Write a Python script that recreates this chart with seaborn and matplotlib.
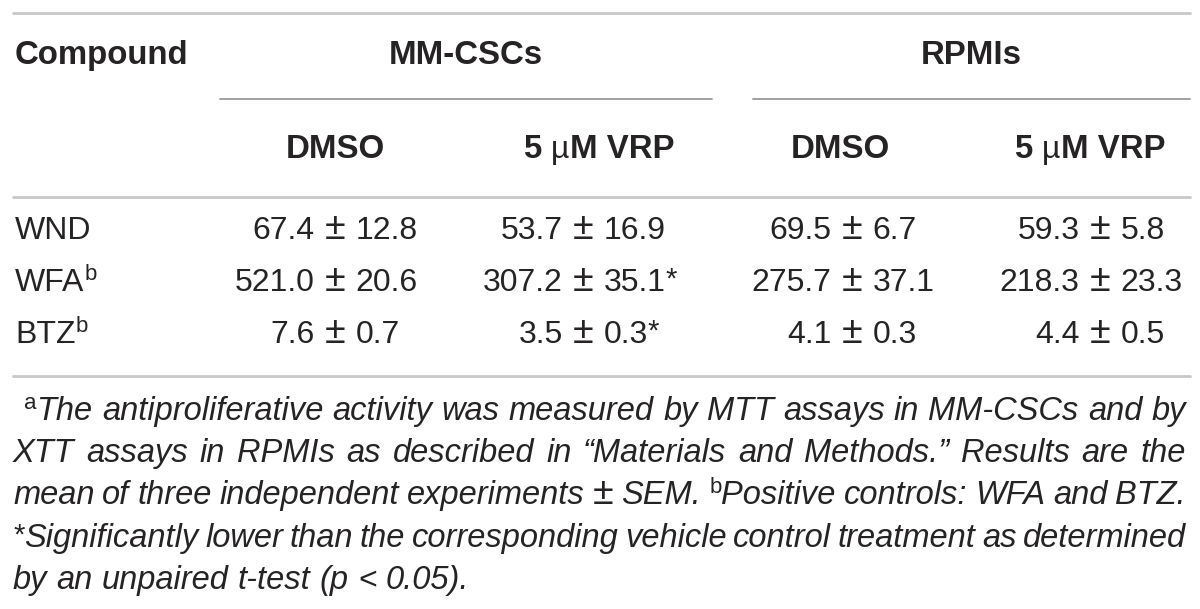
import matplotlib
matplotlib.use("Agg")
import matplotlib.pyplot as plt
import seaborn as sns

# Table contents
compounds = ["WND", "WFA", "BTZ"]
compound_marks = ["", "b", "b"]
groups = ["MM-CSCs", "RPMIs"]
treatments = ["DMSO", "5 µM VRP", "DMSO", "5 µM VRP"]

mm_dmso_mean = [67.4, 521.0, 7.6]
mm_dmso_sem = [12.8, 20.6, 0.7]
mm_vrp_mean = [53.7, 307.2, 3.5]
mm_vrp_sem = [16.9, 35.1, 0.3]
mm_vrp_sig = [False, True, True]
rp_dmso_mean = [69.5, 275.7, 4.1]
rp_dmso_sem = [6.7, 37.1, 0.3]
rp_vrp_mean = [59.3, 218.3, 4.4]
rp_vrp_sem = [5.8, 23.3, 0.5]

columns = [
    (mm_dmso_mean, mm_dmso_sem, [False] * 3),
    (mm_vrp_mean, mm_vrp_sem, mm_vrp_sig),
    (rp_dmso_mean, rp_dmso_sem, [False] * 3),
    (rp_vrp_mean, rp_vrp_sem, [False] * 3),
]

foot_lines = [
    [[("a", "sup"), ("The", "it")]] + "antiproliferative activity was measured by MTT assays in MM-CSCs and by".split(),
    "XTT assays in RPMIs as described in “Materials and Methods.” Results are the".split(),
    "mean of three independent experiments".split() + [[("±", "pm")], "SEM.", [("b", "sup"), ("Positive", "it")]] + "controls: WFA and BTZ.".split(),
    [[("*", "star"), ("Significantly", "it")]] + "lower than the corresponding vehicle control treatment as determined".split(),
    "by an unpaired t-test".split() + [[("(p", "it")], [("<", "up")], [("0.05).", "it")]],
]

sns.set_theme(style="white")
plt.rcParams["font.family"] = ["Liberation Sans", "DejaVu Sans"]

INK = "#262324"
FS = 23
STYLES = {
    "it": dict(fontsize=FS + 0.5, fontstyle="italic"),
    "up": dict(fontsize=FS),
    "pm": dict(fontsize=FS + 4),
    "bold": dict(fontsize=FS + 0.8, fontweight="bold"),
    "sup": dict(fontsize=16),
    "star": dict(fontsize=21),
}
RAISE = {"sup": -11, "star": -3}

fig = plt.figure(figsize=(12, 6.09), dpi=100)
ax = fig.add_axes([0, 0, 1, 1])
ax.set_xlim(0, 1200)
ax.set_ylim(609, 0)
ax.axis("off")
renderer = fig.canvas.get_renderer()


def width(txt, kind):
    t = ax.text(0, 0, txt, **STYLES[kind])
    w = t.get_window_extent(renderer).width
    t.remove()
    return w


def as_pieces(word):
    return [(word, "it")] if isinstance(word, str) else word


def draw_pieces(pieces, x, y, ha="left"):
    ws = [width(p, k) for p, k in pieces]
    total = sum(ws)
    if ha == "center":
        x -= total / 2
    elif ha == "right":
        x -= total
    for (p, k), w in zip(pieces, ws):
        ax.text(x, y + RAISE.get(k, 0), p, color=INK, va="baseline", **STYLES[k])
        x += w
    return total


# rules
ax.plot([13, 1190], [13, 13], color="#c8c8c8", lw=2)
ax.plot([13, 1190], [197, 197], color="#c8c8c8", lw=2)
ax.plot([13, 1190], [376, 376], color="#c8c8c8", lw=2)
ax.plot([220, 712], [99, 99], color="#9a9a9a", lw=1.3)
ax.plot([753, 1190], [99, 99], color="#9a9a9a", lw=1.3)

# header
draw_pieces([("Compound", "bold")], 15, 64)
draw_pieces([(groups[0], "bold")], 466, 64, ha="center")
draw_pieces([(groups[1], "bold")], 971, 64, ha="center")
head_x = [335, 599, 840, 1090]
for name, hx in zip(treatments, head_x):
    if "µ" in name:
        draw_pieces([("5 ", "bold"), ("µ", "up"), ("M VRP", "bold")], hx, 158, ha="center")
    else:
        draw_pieces([(name, "bold")], hx, 158, ha="center")

# body
row_y = [239, 291, 343]
pm_x = [335, 583, 852, 1100]
gap = 10
for i, (comp, mark) in enumerate(zip(compounds, compound_marks)):
    pieces = [(comp, "up")]
    if mark:
        pieces.append((mark, "sup"))
    draw_pieces(pieces, 15, row_y[i])
    for (means, sems, sig), px in zip(columns, pm_x):
        pw = width("±", "pm")
        draw_pieces([(f"{means[i]:.1f}", "up")], px - pw / 2 - gap, row_y[i], ha="right")
        draw_pieces([("±", "pm")], px, row_y[i], ha="center")
        right = [(f"{sems[i]:.1f}", "up")]
        if sig[i]:
            right.append(("*", "star"))
        draw_pieces(right, px + pw / 2 + gap, row_y[i])

# footnote, justified
foot_y = [420, 462, 504, 547, 589]
space = width("a a", "it") - 2 * width("a", "it")
for j, words in enumerate(foot_lines):
    words = [as_pieces(w) for w in words]
    ws = [sum(width(p, k) for p, k in w) for w in words]
    x0 = 24 if j == 0 else 13
    x1 = 1186
    if j < len(foot_lines) - 1:
        sp = (x1 - x0 - sum(ws)) / (len(words) - 1)
    else:
        sp = space
    x = x0
    for w, ww in zip(words, ws):
        draw_pieces(w, x, foot_y[j])
        x += ww + sp

fig.savefig("out.png", dpi=100)
